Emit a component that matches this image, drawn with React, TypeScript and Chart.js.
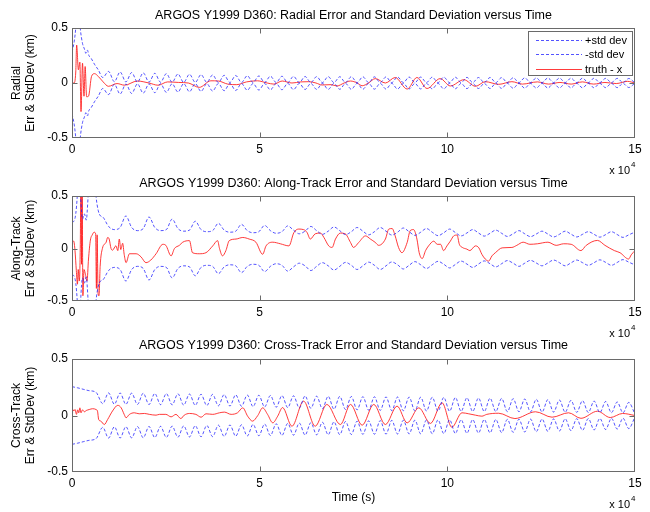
import React, { useEffect, useRef } from 'react';
import { Chart, registerables } from 'chart.js';

Chart.register(...registerables);

// ---------------- text ----------------
const TITLES = [
  'ARGOS Y1999 D360: Radial Error and Standard Deviation versus Time',
  'ARGOS Y1999 D360: Along-Track Error and Standard Deviation versus Time',
  'ARGOS Y1999 D360: Cross-Track Error and Standard Deviation versus Time',
];
const Y_LABELS = [
  ['Radial', 'Err & StdDev (km)'],
  ['Along-Track', 'Err & StdDev (km)'],
  ['Cross-Track', 'Err & StdDev (km)'],
];
const X_LABEL = 'Time (s)';
const SERIES_LABELS = ['+std dev', '-std dev', 'truth - x'];
const X_EXPONENT_BASE = 'x 10';
const X_EXPONENT_POWER = '4';

// ---------------- axis ----------------
const X_MIN = 0;
const X_MAX = 150000;
const X_STEP = 50000;
const X_TICK_DIVISOR = 10000;
const Y_MIN = -0.5;
const Y_MAX = 0.5;
const Y_STEP = 0.5;

// ---------------- data (time in s, values in km) ----------------
// sampling instants of the orbit-periodic standard deviation curves
const orbitT = [
  8200, 9740, 11280, 12820, 14360, 15900, 17440, 18980, 20520, 22060,
  23600, 25140, 26680, 28220, 29760, 31300, 32840, 34380, 35920, 37460,
  39000, 40540, 42080, 43620, 45160, 46700, 48240, 49780, 51320, 52860,
  54400, 55940, 57480, 59020, 60560, 62100, 63640, 65180, 66720, 68260,
  69800, 71340, 72880, 74420, 75960, 77500, 79040, 80580, 82120, 83660,
  85200, 86740, 88280, 89820, 91360, 92900, 94440, 95980, 97520, 99060,
  100600, 102140, 103680, 105220, 106760, 108300, 109840, 111380, 112920, 114460,
  116000, 117540, 119080, 120620, 122160, 123700, 125240, 126780, 128320, 129860,
  131400, 132940, 134480, 136020, 137560, 139100, 140640, 142180, 143720, 145260,
  146800, 148340, 149880,
];

// Radial
const radialEarlyT = [0, 600, 1000, 1600, 2200, 2800, 3300, 3700, 4100, 4500, 5000, 6000, 7000];
const radialEarlyStd = [0.28, 0.38, 0.5, 0.8, 0.5, 0.36, 0.31, 0.27, 0.3, 0.25, 0.23, 0.17, 0.12];
const radialOrbitStd = [
  0.05, 0.105, 0.012, 0.1, 0.01, 0.095, 0.008, 0.092, 0.008, 0.088,
  0.007, 0.085, 0.007, 0.082, 0.006, 0.079, 0.006, 0.076, 0.006, 0.073,
  0.005, 0.07, 0.005, 0.068, 0.005, 0.066, 0.005, 0.064, 0.005, 0.062,
  0.005, 0.061, 0.004, 0.06, 0.004, 0.059, 0.004, 0.058, 0.004, 0.058,
  0.004, 0.057, 0.004, 0.057, 0.004, 0.056, 0.004, 0.056, 0.004, 0.055,
  0.004, 0.055, 0.004, 0.054, 0.004, 0.054, 0.004, 0.053, 0.004, 0.053,
  0.004, 0.052, 0.004, 0.051, 0.004, 0.05, 0.004, 0.05, 0.004, 0.049,
  0.004, 0.048, 0.004, 0.047, 0.004, 0.046, 0.004, 0.046, 0.004, 0.045,
  0.004, 0.044, 0.004, 0.044, 0.004, 0.043, 0.004, 0.042, 0.004, 0.042,
  0.004, 0.041, 0.004,
];
const radialErrT = [
  0, 500, 1000, 1240, 1700, 2100, 2400, 2800, 3200, 3500,
  3900, 4400, 5200, 6000, 7000, 8300, 9700, 12000, 14000, 17400,
  20500, 22900, 25500, 28400, 31000, 33900, 37000, 39000, 41500, 43900,
  46500, 49400, 52000, 53800, 56000, 58600, 61000, 63100, 65000, 66600,
  69000, 70600, 72500, 74200, 76000, 77300, 79000, 80800, 83500, 86100,
  89300, 91900, 94600, 98100, 100800, 104400, 107500, 110100, 113700, 117200,
  120000, 124000, 127000, 130000, 133000, 136000, 139000, 142000, 145000, 148000,
  150000,
];
const radialErrV = [
  0, 0, 0.1, 0.345, 0.12, 0.19, -0.26, 0.18, -0.12, 0.15,
  -0.125, -0.12, 0.06, 0.085, 0.06, 0.01, -0.03, -0.005, -0.02, 0.018,
  0, -0.02, 0.01, 0.005, 0, -0.04, 0.02, 0.018, -0.01, -0.015,
  0.01, 0.02, 0, -0.01, 0.018, 0, 0.01, 0.012, 0, -0.018,
  -0.015, -0.027, 0, 0.018, 0, -0.025, 0, 0.04, 0, 0.05,
  -0.055, 0.05, -0.05, 0.04, -0.027, 0.03, -0.03, 0.012, -0.012, 0.012,
  -0.01, 0.01, -0.01, 0.005, -0.01, 0.01, -0.01, 0.005, -0.005, 0.015,
  0,
];

// Along-Track
const alongEarlyT = [0, 500, 1000, 1400, 1900, 2300, 2800, 3300, 3800, 4300, 4800, 5500, 6000, 6400, 7000, 7600];
const alongEarlyStd = [0.25, 0.26, 0.33, 0.5, 0.9, 0.5, 0.28, 0.33, 0.27, 0.5, 0.8, 0.9, 0.7, 0.5, 0.36, 0.31];
const alongOrbitStd = [
  0.3, 0.21, 0.18, 0.2,
  0.31, 0.2, 0.17, 0.19,
  0.3, 0.2, 0.17, 0.18,
  0.28, 0.19, 0.165, 0.175,
  0.26, 0.18, 0.16, 0.17,
  0.24, 0.175, 0.155, 0.165,
  0.23, 0.17, 0.15, 0.16,
  0.22, 0.17, 0.145, 0.16,
  0.215, 0.175, 0.14, 0.165,
  0.21, 0.17, 0.135, 0.165,
  0.205, 0.17, 0.132, 0.16,
  0.2, 0.165, 0.13, 0.16,
  0.2, 0.165, 0.128, 0.155,
  0.195, 0.16, 0.125, 0.155,
  0.19, 0.155, 0.122, 0.15,
  0.185, 0.152, 0.12, 0.148,
  0.18, 0.148, 0.118, 0.145,
  0.175, 0.145, 0.115, 0.14,
  0.17, 0.14, 0.113, 0.138,
  0.165, 0.138, 0.11, 0.135,
  0.165, 0.137, 0.11, 0.135,
  0.16, 0.135, 0.108, 0.132,
  0.16, 0.133, 0.106, 0.13,
  0.155,
];
const alongErrT = [
  0, 450, 800, 1150, 1450, 1650, 1950, 2200, 2400, 2550,
  2700, 2900, 3200, 3600, 4000, 4400, 4900, 5400, 5900, 6300,
  6500, 6700, 6950, 7200, 7500, 8100, 9100, 9500, 9900, 10400,
  10800, 11700, 12200, 12600, 13000, 13500, 13900, 14400, 15300, 17100,
  18400, 19700, 21000, 22400, 24200, 25000, 26400, 27300, 28600, 29500,
  31300, 32100, 33900, 35700, 37500, 38800, 39300, 40100, 41000, 41900,
  43700, 45500, 47200, 49000, 50800, 51700, 53500, 55500, 57800, 59100,
  60400, 61700, 62600, 63500, 64800, 66200, 67100, 68400, 69300, 70200,
  71500, 72800, 74200, 75000, 76400, 78200, 79500, 80800, 81700, 83500,
  84400, 85300, 86100, 87000, 87900, 89300, 90100, 91000, 91900, 92500,
  93300, 94200, 95000, 96400, 97300, 98200, 99000, 99900, 100800, 101700,
  102600, 103200, 104000, 105200, 106000, 107500, 108400, 109200, 110100, 111000,
  111900, 112800, 114600, 117200, 118500, 120200, 122000, 124000, 126800, 129000,
  131000, 133000, 135600, 137000, 140000, 142000, 144500, 146000, 148300, 149000,
  150000,
];
const alongErrV = [
  0.07, 0.07, -0.02, -0.21, -0.34, -0.2, -0.31, 0, 0.75, -0.15,
  0.7, -0.45, -0.2, -0.25, -0.31, -0.1, 0.08, 0.13, 0.155, 0.14,
  -0.38, 0.13, -0.43, -0.45, -0.17, 0, 0.06, 0.105, 0.09, 0,
  -0.016, 0.026, -0.02, 0.09, -0.01, 0.05, -0.055, -0.135, -0.05, -0.05,
  -0.08, -0.135, -0.11, -0.05, 0.04, 0.03, -0.07, 0, 0.03, 0.06,
  0.075, -0.04, -0.05, -0.04, 0.025, 0.075, 0, -0.07, -0.02, 0.075,
  0.09, 0.105, 0.09, 0.06, -0.055, 0.025, 0.06, 0.045, 0.025, 0.15,
  0.185, 0.18, 0.154, 0.09, 0.14, 0.147, 0.106, 0.025, 0.01, 0.09,
  0.147, 0.14, 0.058, 0.01, 0.058, 0.12, 0.09, 0.058, 0.03, 0.09,
  0.185, 0.19, 0.12, 0.01, -0.04, 0.058, 0.17, 0.18, 0.09, -0.04,
  -0.096, -0.02, 0.025, 0.07, 0.04, 0.04, -0.02, 0.025, 0.07, 0.12,
  0.128, 0.04, 0.01, -0.006, -0.02, 0.025, 0.006, -0.055, -0.1, -0.12,
  -0.07, -0.04, 0.006, 0.01, 0.03, 0.06, 0.04, 0.045, 0.06, 0.03,
  0.045, 0.04, -0.02, 0.03, 0.077, 0.03, -0.02, -0.04, -0.1, -0.06,
  -0.02,
];

// Cross-Track
const crossEarlyT = [0, 1500, 3000, 4500, 6400];
const crossEarlyStd = [0.255, 0.245, 0.232, 0.22, 0.205];
const crossOrbitStd = [
  0.105, 0.2, 0.1, 0.199, 0.099, 0.198, 0.098, 0.197, 0.097, 0.195,
  0.096, 0.194, 0.094, 0.192, 0.092, 0.19, 0.09, 0.188, 0.088, 0.187,
  0.086, 0.185, 0.084, 0.183, 0.082, 0.181, 0.079, 0.179, 0.076, 0.177,
  0.073, 0.176, 0.07, 0.174, 0.067, 0.173, 0.064, 0.171, 0.06, 0.17,
  0.056, 0.169, 0.053, 0.168, 0.05, 0.167, 0.047, 0.166, 0.045, 0.165,
  0.043, 0.164, 0.042, 0.163, 0.041, 0.162, 0.04, 0.161, 0.039, 0.16,
  0.038, 0.159, 0.037, 0.157, 0.036, 0.155, 0.035, 0.153, 0.035, 0.151,
  0.034, 0.149, 0.033, 0.146, 0.032, 0.143, 0.031, 0.14, 0.03, 0.137,
  0.029, 0.134, 0.028, 0.131, 0.027, 0.128, 0.026, 0.124, 0.025, 0.12,
  0.024, 0.116, 0.022,
];
const crossErrT = [
  0, 200, 500, 800, 1200, 1500, 1800, 2100, 2400, 2800,
  3300, 3800, 4600, 5500, 6400, 6800, 7100, 7700, 8600, 9500,
  10800, 12200, 13100, 13900, 14400, 15300, 16600, 17900, 19300, 20600,
  22400, 23300, 25000, 26400, 27700, 29000, 29900, 31300, 33000, 34400,
  35700, 37500, 39300, 40600, 42400, 44100, 45500, 46800, 48100, 49500,
  50800, 52100, 53500, 54800, 56100, 58600, 61700, 64800, 67900, 71500,
  74200, 77300, 80400, 83500, 86600, 89300, 92400, 95500, 98600, 101200,
  103900, 105700, 107500, 109200, 110500, 113700, 118000, 123500, 127900, 132300,
  135600, 140000, 143400, 146700, 150000,
];
const crossErrV = [
  -0.14, 0.053, 0.04, 0.053, 0.01, 0.05, 0.024, 0.068, 0.024, 0.05,
  0.033, 0.044, 0.053, 0.06, 0.053, 0.038, -0.035, -0.05, -0.08, -0.035,
  0.04, 0.09, 0.068, 0.01, -0.02, 0.01, 0.024, 0.015, 0.018, 0.01,
  0.003, 0.01, 0.01, -0.012, 0.01, -0.027, 0.003, 0.018, 0.01, -0.015,
  0.015, 0.01, 0.024, 0.03, 0.01, 0.024, 0.068, -0.006, -0.05, 0,
  0.068, 0.01, -0.065, -0.006, 0.07, -0.095, 0.127, -0.095, 0.098, -0.08,
  0.098, -0.086, 0.098, -0.08, 0.083, -0.065, 0.068, -0.07, 0.112, -0.104,
  0.024, 0.015, 0.003, -0.006, 0.01, 0.02, -0.027, 0.033, -0.015, 0.024,
  -0.025, 0.038, -0.018, 0.018, 0,
];

// ---------------- styling / layout (not data) ----------------
const FONT = "'Liberation Sans', Arial, Helvetica, sans-serif";
const FONT_SIZE = 12;
const TITLE_SIZE = 12.5;
const LEGEND_SIZE = 11;
const LINE_H = FONT_SIZE * 1.2;
const TITLE_LINE_H = TITLE_SIZE * 1.2;
const TEXT_COLOR = '#000';
const FRAME_COLOR = '#6a6a6a';
const BLUE = 'rgba(25,25,255,0.75)';
const RED = 'rgba(255,25,25,0.85)';
const SERIES_COLORS = [BLUE, BLUE, RED];
const SERIES_DASH = [[3, 2], [3, 2], []];
const TICK_LEN = 5;
const W = 650;
const H = 512;

type PanelLayout = {
  plotTop: number;
  plotBottom: number;
  titleY: number;
  xAxisHeight: number;
  xTitleY: number | null;
};
const PLOT_LEFT = 72;
const PLOT_RIGHT = 635;
const LAYOUTS: PanelLayout[] = [
  { plotTop: 28, plotBottom: 138, titleY: 16, xAxisHeight: 24, xTitleY: null },
  { plotTop: 196, plotBottom: 301, titleY: 183.5, xAxisHeight: 24, xTitleY: null },
  { plotTop: 359, plotBottom: 472, titleY: 346, xAxisHeight: 33, xTitleY: 498 },
];
const Y_TITLE_FIRST_LINE_X = 17;

type Pt = { x: number; y: number };
function toPoints(ts: number[], vs: number[], sign: number): Pt[] {
  return ts.map((t, i) => ({ x: t, y: sign * vs[i] }));
}

const PANEL_DATA = [
  { stdT: [...radialEarlyT, ...orbitT], std: [...radialEarlyStd, ...radialOrbitStd], errT: radialErrT, err: radialErrV },
  { stdT: [...alongEarlyT, ...orbitT], std: [...alongEarlyStd, ...alongOrbitStd], errT: alongErrT, err: alongErrV },
  { stdT: [...crossEarlyT, ...orbitT], std: [...crossEarlyStd, ...crossOrbitStd], errT: crossErrT, err: crossErrV },
];

const framePlugin = {
  id: 'matlabFrame',
  afterDatasetsDraw(chart: any) {
    const { ctx, chartArea: a, scales } = chart;
    const L = Math.round(a.left) + 0.5;
    const R = Math.round(a.right) - 0.5;
    const T = Math.round(a.top) + 0.5;
    const B = Math.round(a.bottom) - 0.5;
    ctx.save();
    ctx.strokeStyle = FRAME_COLOR;
    ctx.lineWidth = 1;
    ctx.setLineDash([]);
    ctx.strokeRect(L, T, R - L, B - T);
    ctx.beginPath();
    scales.x.ticks.forEach((tk: any) => {
      let px = Math.round(scales.x.getPixelForValue(tk.value)) + 0.5;
      px = Math.min(Math.max(px, L), R);
      ctx.moveTo(px, B);
      ctx.lineTo(px, B - TICK_LEN);
      ctx.moveTo(px, T);
      ctx.lineTo(px, T + TICK_LEN);
    });
    scales.y.ticks.forEach((tk: any) => {
      let py = Math.round(scales.y.getPixelForValue(tk.value)) + 0.5;
      py = Math.min(Math.max(py, T), B);
      ctx.moveTo(L, py);
      ctx.lineTo(L + TICK_LEN, py);
      ctx.moveTo(R, py);
      ctx.lineTo(R - TICK_LEN, py);
    });
    ctx.stroke();
    ctx.restore();
  },
};

const exponentPlugin = {
  id: 'xExponent',
  afterDraw(chart: any) {
    const { ctx, chartArea: a } = chart;
    const y = a.bottom + 33;
    ctx.save();
    ctx.fillStyle = TEXT_COLOR;
    ctx.textBaseline = 'middle';
    ctx.textAlign = 'right';
    ctx.font = `${LEGEND_SIZE}px ${FONT}`;
    ctx.fillText(X_EXPONENT_BASE, a.right - 5, y);
    ctx.textAlign = 'left';
    ctx.font = `8px ${FONT}`;
    ctx.fillText(X_EXPONENT_POWER, a.right - 4, y - 6);
    ctx.restore();
  },
};

const boxedLegendPlugin = {
  id: 'boxedLegend',
  afterDraw(chart: any) {
    const { ctx, chartArea: a } = chart;
    const w = 104;
    const h = 44;
    const x0 = Math.round(a.right - 3 - w);
    const y0 = Math.round(a.top + 3);
    ctx.save();
    ctx.fillStyle = '#fff';
    ctx.fillRect(x0, y0, w, h);
    ctx.strokeStyle = FRAME_COLOR;
    ctx.lineWidth = 1;
    ctx.setLineDash([]);
    ctx.strokeRect(x0 + 0.5, y0 + 0.5, w, h);
    chart.data.datasets.forEach((ds: any, i: number) => {
      const cy = Math.round(y0 + 8.5 + i * 14.5) + 0.5;
      ctx.save();
      ctx.strokeStyle = SERIES_COLORS[i];
      ctx.lineWidth = 1;
      ctx.setLineDash(SERIES_DASH[i]);
      ctx.beginPath();
      ctx.moveTo(x0 + 8, cy);
      ctx.lineTo(x0 + 54, cy);
      ctx.stroke();
      ctx.restore();
      ctx.fillStyle = TEXT_COLOR;
      ctx.font = `${LEGEND_SIZE}px ${FONT}`;
      ctx.textAlign = 'left';
      ctx.textBaseline = 'middle';
      ctx.fillText(ds.label, x0 + 57, cy);
    });
    ctx.restore();
  },
};

function buildConfig(index: number): any {
  const lay = LAYOUTS[index];
  const d = PANEL_DATA[index];
  const layoutTop = index === 0 ? 0 : Math.floor(lay.titleY - TITLE_LINE_H / 2 - 8);
  const tTop = lay.titleY - TITLE_LINE_H / 2 - layoutTop;
  const tBottom = lay.plotTop - lay.titleY - TITLE_LINE_H / 2;
  const layoutBottom = H - lay.plotBottom - lay.xAxisHeight;

  const font = { family: FONT, size: FONT_SIZE };
  const lineCommon = {
    pointRadius: 0,
    pointHoverRadius: 0,
    borderWidth: 1,
    fill: false,
    cubicInterpolationMode: 'monotone',
  };

  return {
    type: 'line',
    data: {
      datasets: [
        { ...lineCommon, label: SERIES_LABELS[0], data: toPoints(d.stdT, d.std, 1), borderColor: SERIES_COLORS[0], borderDash: SERIES_DASH[0] },
        { ...lineCommon, label: SERIES_LABELS[1], data: toPoints(d.stdT, d.std, -1), borderColor: SERIES_COLORS[1], borderDash: SERIES_DASH[1] },
        { ...lineCommon, label: SERIES_LABELS[2], data: toPoints(d.errT, d.err, 1), borderColor: SERIES_COLORS[2] },
      ],
    },
    options: {
      animation: false,
      responsive: false,
      maintainAspectRatio: false,
      events: [],
      layout: {
        padding: { left: 0, right: W - PLOT_RIGHT, top: layoutTop, bottom: layoutBottom },
      },
      plugins: {
        legend: { display: false },
        tooltip: { enabled: false },
        title: {
          display: true,
          text: TITLES[index],
          fullSize: false,
          color: TEXT_COLOR,
          font: { family: FONT, size: TITLE_SIZE, weight: 'normal' },
          padding: { top: tTop, bottom: tBottom },
        },
      },
      scales: {
        x: {
          type: 'linear',
          min: X_MIN,
          max: X_MAX,
          grid: { display: false, drawTicks: false },
          border: { display: false },
          ticks: {
            stepSize: X_STEP,
            autoSkip: false,
            maxRotation: 0,
            padding: 4,
            color: TEXT_COLOR,
            font,
            callback: (v: number) => String(v / X_TICK_DIVISOR),
          },
          title: lay.xTitleY === null
            ? { display: false }
            : {
                display: true,
                text: X_LABEL,
                color: TEXT_COLOR,
                font,
                padding: { top: 0, bottom: lay.plotBottom + lay.xAxisHeight - lay.xTitleY - LINE_H / 2 },
              },
          afterFit: (s: any) => { s.height = lay.xAxisHeight; },
        },
        y: {
          type: 'linear',
          min: Y_MIN,
          max: Y_MAX,
          grid: { display: false, drawTicks: false },
          border: { display: false },
          ticks: {
            stepSize: Y_STEP,
            padding: 4,
            color: TEXT_COLOR,
            font,
            callback: (v: number) => String(v),
          },
          title: {
            display: true,
            text: Y_LABELS[index],
            color: TEXT_COLOR,
            font: { family: FONT, size: FONT_SIZE, lineHeight: 1.1 },
            padding: { top: Y_TITLE_FIRST_LINE_X - (FONT_SIZE * 1.1) / 2, bottom: 0 },
          },
          afterFit: (s: any) => { s.width = PLOT_LEFT; },
        },
      },
    },
    plugins: index === 0 ? [framePlugin, exponentPlugin, boxedLegendPlugin] : [framePlugin, exponentPlugin],
  };
}

function Panel({ index }: { index: number }) {
  const ref = useRef<HTMLCanvasElement | null>(null);
  useEffect(() => {
    if (!ref.current) return;
    const chart = new Chart(ref.current, buildConfig(index));
    return () => chart.destroy();
  }, [index]);
  return (
    <canvas
      ref={ref}
      width={W}
      height={H}
      style={{ position: 'absolute', left: 0, top: 0, width: W, height: H }}
    />
  );
}

export default function App() {
  return (
    <div
      style={{
        position: 'fixed',
        left: 0,
        top: 0,
        width: W,
        height: H,
        background: '#fff',
        overflow: 'hidden',
      }}
    >
      {[0, 1, 2].map((i) => (
        <Panel key={i} index={i} />
      ))}
    </div>
  );
}
